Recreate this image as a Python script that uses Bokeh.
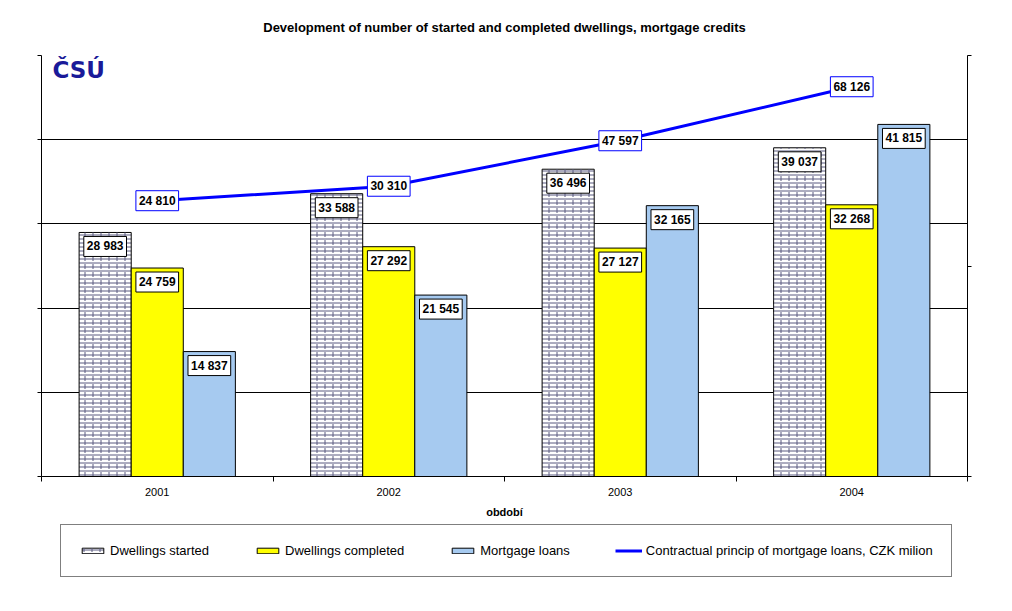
from bokeh.plotting import figure
from bokeh.layouts import column
from bokeh.models import (ColumnDataSource, FactorRange, Range1d, LinearAxis, FixedTicker,
                          Grid, Legend, LegendItem, Label)
from bokeh.transform import dodge
from bokeh.core.properties import value
from bokeh.embed import file_html
from bokeh.resources import INLINE

years = ["2001", "2002", "2003", "2004"]
started = [28983, 33588, 36496, 39037]
completed = [24759, 27292, 27127, 32268]
mortgage = [14837, 21545, 32165, 41815]
principal = [24810, 30310, 47597, 68126]

title_text = "Development of number of started and completed dwellings, mortgage credits"
series_names = ["Dwellings started", "Dwellings completed", "Mortgage loans",
                "Contractual princip of mortgage loans, CZK milion"]
x_label = "období"
left_ticks = [0, 10000, 20000, 30000, 40000, 50000]
right_ticks = [-80000, 0, 80000]


def fmt(v):
    return f"{v:,}".replace(",", " ")


src = ColumnDataSource(dict(
    year=years, started=started, completed=completed, mortgage=mortgage, principal=principal,
    started_t=[fmt(v) for v in started], completed_t=[fmt(v) for v in completed],
    mortgage_t=[fmt(v) for v in mortgage], principal_t=[fmt(v) for v in principal],
))

FONT = "Liberation Sans"
BRICK = "#5a5a80"
YELLOW = "#ffff00"
LBLUE = "#a6caf0"
BLUE = "#0000ff"
W = 0.225

p = figure(x_range=FactorRange(factors=years), y_range=Range1d(0, 50000),
           width=996, height=520, output_backend="svg", toolbar_location=None,
           x_axis_location=None, y_axis_location=None,
           min_border_left=41, min_border_right=29, min_border_top=55, min_border_bottom=41)
p.extra_y_ranges = {"line": Range1d(-80000, 80000)}
p.outline_line_color = None
p.background_fill_color = "white"
p.border_fill_color = "white"
p.center = [r for r in p.center if not isinstance(r, Grid)]

p.title.text = title_text
p.title.align = "center"
p.title.vertical_align = "top"
p.title.text_font = FONT
p.title.text_font_size = "13px"
p.title.text_font_style = "bold"
p.title.text_color = "black"
p.title.standoff = 0
p.title.padding = 19

p.add_layout(Grid(dimension=1, ticker=FixedTicker(ticks=left_ticks), grid_line_color="black",
                  grid_line_width=1))

yl = LinearAxis(ticker=FixedTicker(ticks=left_ticks), major_label_text_font_size="1px",
                major_label_text_color=None,
                major_label_standoff=0, major_tick_in=0, major_tick_out=4,
                axis_line_color="black", major_tick_line_color="black", minor_tick_line_color=None)
p.add_layout(yl, "left")
yr = LinearAxis(y_range_name="line", ticker=FixedTicker(ticks=right_ticks),
                major_label_text_font_size="1px", major_label_text_color=None,
                major_label_standoff=0,
                major_tick_in=0, major_tick_out=4, minor_tick_line_color=None)
p.add_layout(yr, "right")

xa = LinearAxis(ticker=FixedTicker(ticks=[0.5, 1.5, 2.5, 3.5], minor_ticks=[0, 1, 2, 3, 4]),
                major_label_overrides={0.5: years[0], 1.5: years[1], 2.5: years[2], 3.5: years[3]},
                major_tick_line_color=None, major_tick_in=0, major_tick_out=0,
                minor_tick_in=0, minor_tick_out=5, minor_tick_line_color="black",
                major_label_text_font=FONT, major_label_text_font_size="11px",
                major_label_text_color="black",
                major_label_standoff=6,
                axis_label=x_label, axis_label_text_font=FONT, axis_label_text_font_size="11px",
                axis_label_text_font_style="bold", axis_label_text_color="black",
                axis_label_standoff=7)
p.add_layout(xa, "below")


def draw_series(fig, visible=True):
    s1 = fig.vbar(x=dodge("year", -W, range=p.x_range), top="started", width=W, source=src,
                  fill_color="white", line_color="black", line_width=1,
                  hatch_pattern="horizontal_line", hatch_color=BRICK, hatch_scale=4,
                  hatch_weight=1, visible=visible)
    s1b = fig.vbar(x=dodge("year", -W, range=p.x_range), top="started", width=W, source=src,
                   fill_color=None, line_color=None,
                   hatch_pattern="vertical_dash", hatch_color=BRICK, hatch_scale=8,
                   hatch_weight=1, visible=visible)
    s2 = fig.vbar(x=dodge("year", 0, range=p.x_range), top="completed", width=W, source=src,
                  fill_color=YELLOW, line_color="black", line_width=1, visible=visible)
    s3 = fig.vbar(x=dodge("year", W, range=p.x_range), top="mortgage", width=W, source=src,
                  fill_color=LBLUE, line_color="black", line_width=1, visible=visible)
    s4 = fig.line(x="year", y="principal", source=src, y_range_name="line",
                  line_color=BLUE, line_width=3, visible=visible)
    return s1, s1b, s2, s3, s4


draw_series(p)

common = dict(text_font=value(FONT), text_font_size="12px", text_font_style="bold",
              text_color="black", text_align="center", text_baseline="middle",
              background_fill_color="white", padding=3)
p.text(x=dodge("year", -W, range=p.x_range), y="started", text="started_t", source=src,
       y_offset=14, border_line_color="black", **common)
p.text(x=dodge("year", 0, range=p.x_range), y="completed", text="completed_t", source=src,
       y_offset=14, border_line_color="black", **common)
p.text(x=dodge("year", W, range=p.x_range), y="mortgage", text="mortgage_t", source=src,
       y_offset=14, border_line_color="black", **common)
p.text(x="year", y="principal", text="principal_t", source=src, y_range_name="line",
       border_line_color=BLUE, **common)

logo = Label(x=11, y=407, x_units="screen", y_units="screen", text="ČSÚ",
             text_font="DejaVu Sans", text_font_size="23px", text_font_style="bold",
             text_color="#1a1a99", text_baseline="middle")
p.add_layout(logo)

# legend panel: a second figure holding hidden copies of the series, showing only the legend
lg = figure(width=996, height=75, output_backend="svg", toolbar_location=None,
            x_range=p.x_range, y_range=Range1d(0, 50000),
            x_axis_location=None, y_axis_location=None,
            min_border_left=0, min_border_right=0, min_border_top=0, min_border_bottom=0)
lg.extra_y_ranges = {"line": Range1d(-80000, 80000)}
lg.outline_line_color = None
lg.center = [r for r in lg.center if not isinstance(r, Grid)]
a1, a2, b, c, d = draw_series(lg, visible=False)

legend = Legend(items=[LegendItem(label=series_names[0], renderers=[a1, a2], index=0),
                       LegendItem(label=series_names[1], renderers=[b], index=0),
                       LegendItem(label=series_names[2], renderers=[c], index=0),
                       LegendItem(label=series_names[3], renderers=[d], index=0)],
                orientation="horizontal", location=(19, 18),
                glyph_width=27, glyph_height=7, label_standoff=4, spacing=45,
                padding=18, margin=0, label_height=12,
                inactive_fill_alpha=0, inactive_fill_color="white",
                label_text_font=FONT, label_text_font_size="13px", label_text_color="black",
                border_line_color="black", border_line_width=1,
                background_fill_color="white", background_fill_alpha=1)
lg.add_layout(legend, "center")

layout = column(p, lg, spacing=0)
open("out.html", "w").write(file_html(layout, INLINE))
